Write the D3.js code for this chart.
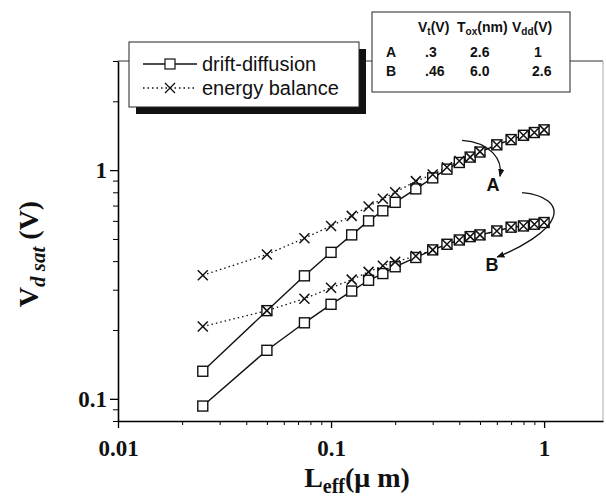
<!DOCTYPE html>
<html>
<head>
<meta charset="utf-8">
<script src="https://cdn.jsdelivr.net/npm/d3@7"></script>
<style>
  body { margin: 0; background: #fff; }
  svg { display: block; }
  .tick-label { font-family: "Liberation Serif", "Times New Roman", serif; font-weight: bold; font-size: 23px; fill: #111; }
  .axis-title { font-family: "Liberation Serif", "Times New Roman", serif; font-weight: bold; font-size: 28px; fill: #111; }
  .legend-text { font-family: "Liberation Sans", Arial, sans-serif; font-size: 20px; fill: #111; }
  .table-text { font-family: "Liberation Sans", Arial, sans-serif; font-weight: bold; font-size: 14px; fill: #111; }
  .note { font-family: "Liberation Sans", Arial, sans-serif; font-weight: bold; font-size: 18px; fill: #111; }
</style>
</head>
<body>
<div id="chart"></div>
<script>
// gate length (um)
const lengths = [0.025, 0.05, 0.075, 0.1, 0.125, 0.15, 0.175, 0.2, 0.25, 0.3, 0.35, 0.4, 0.45, 0.5, 0.6, 0.7, 0.8, 0.9, 1.0];

// Vdsat (V), device A
const energyA = [0.347, 0.428, 0.504, 0.570, 0.631, 0.694, 0.75, 0.80, 0.895, 0.957, 1.03, 1.096, 1.14, 1.205, 1.29, 1.36, 1.42, 1.46, 1.50];
const driftA  = [0.132, 0.243, 0.345, 0.437, 0.521, 0.60, 0.664, 0.723, 0.828, 0.925, 1.01, 1.08, 1.14, 1.2, 1.29, 1.36, 1.42, 1.46, 1.50];

// Vdsat (V), device B
const energyB = [0.207, 0.243, 0.274, 0.306, 0.332, 0.359, 0.382, 0.397, 0.421, 0.448, 0.474, 0.495, 0.512, 0.521, 0.542, 0.563, 0.57, 0.58, 0.59];
const driftB  = [0.093, 0.163, 0.215, 0.259, 0.296, 0.33, 0.353, 0.378, 0.415, 0.448, 0.474, 0.495, 0.512, 0.521, 0.542, 0.563, 0.57, 0.58, 0.59];

const xMajor = [0.01, 0.1, 1];
const yMajor = [0.1, 1];

const tableHeader = ["V|t|(V)", "T|ox|(nm)", "V|dd|(V)"];
const tableRows = [
    ["A", ".3", "2.6", "1"],
    ["B", ".46", "6.0", "2.6"]
];

const width = 606, height = 500;
const margin = { left: 118, right: 3, top: 61, bottom: 79 };

const x = d3.scaleLog().domain([0.01, 1.89]).range([margin.left, width - margin.right]);
const y = d3.scaleLog().domain([0.08, 3]).range([height - margin.bottom, margin.top]);

const svg = d3.select("#chart").append("svg")
    .attr("width", width)
    .attr("height", height);

// frame (top / right are faint in the scan)
svg.append("line")
    .attr("x1", x.range()[0]).attr("x2", x.range()[1])
    .attr("y1", y.range()[1]).attr("y2", y.range()[1])
    .attr("stroke", "#333").attr("stroke-width", 1);
svg.append("line")
    .attr("x1", x.range()[1]).attr("x2", x.range()[1])
    .attr("y1", y.range()[1]).attr("y2", y.range()[0])
    .attr("stroke", "#aaa").attr("stroke-width", 1);

// minor tick values
const logMinor = (lo, hi) => {
    const out = [];
    for (let e = Math.floor(Math.log10(lo)); e <= Math.ceil(Math.log10(hi)); e++) {
        for (let m = 2; m < 10; m++) {
            const v = m * Math.pow(10, e);
            if (v >= lo && v <= hi) out.push(v);
        }
    }
    return out;
};

const xAxisY = y.range()[0];
svg.append("g")
    .attr("transform", `translate(0, ${xAxisY})`)
    .call(d3.axisBottom(x).tickValues(logMinor(0.01, 1.89)).tickSize(4).tickFormat(""))
    .call(g => g.select(".domain").remove());
svg.append("g")
    .attr("class", "x-axis")
    .attr("transform", `translate(0, ${xAxisY})`)
    .call(d3.axisBottom(x).tickValues(xMajor).tickSize(7).tickSizeOuter(0).tickPadding(12).tickFormat(d => String(d)))
    .call(g => g.select(".domain").attr("stroke-width", 1.6))
    .call(g => g.selectAll(".tick line").attr("stroke-width", 1.3))
    .call(g => g.selectAll(".tick text").attr("class", "tick-label").attr("fill", null));

svg.append("g")
    .attr("transform", `translate(${margin.left}, 0)`)
    .call(d3.axisLeft(y).tickValues(logMinor(0.08, 3)).tickSize(5).tickFormat(""))
    .call(g => g.select(".domain").remove());
svg.append("g")
    .attr("class", "y-axis")
    .attr("transform", `translate(${margin.left}, 0)`)
    .call(d3.axisLeft(y).tickValues(yMajor).tickSize(8).tickSizeOuter(0).tickPadding(3).tickFormat(d => String(d)))
    .call(g => g.select(".domain").attr("stroke-width", 1.6))
    .call(g => g.selectAll(".tick line").attr("stroke-width", 1.3))
    .call(g => g.selectAll(".tick text").attr("class", "tick-label").attr("fill", null));

// axis titles
const xt = svg.append("text")
    .attr("class", "axis-title")
    .attr("x", 357)
    .attr("y", 487)
    .attr("text-anchor", "middle");
xt.append("tspan").text("L");
xt.append("tspan").attr("font-size", 20).attr("dy", 6).text("eff");
xt.append("tspan").attr("dy", -6).text("(\u03bc m)");

const yt = svg.append("text")
    .attr("class", "axis-title")
    .attr("transform", "translate(38, 254) rotate(-90)")
    .attr("text-anchor", "middle");
yt.append("tspan").text("V");
yt.append("tspan").attr("font-size", 21).attr("font-style", "italic").attr("dy", 7).text("d sat");
yt.append("tspan").attr("dy", -7).text(" (V)");

// series
const series = [
    { vals: energyB, kind: "energy" },
    { vals: energyA, kind: "energy" },
    { vals: driftB, kind: "drift" },
    { vals: driftA, kind: "drift" }
];

const line = d3.line().x(d => x(d[0])).y(d => y(d[1]));

const plot = svg.append("g");
series.forEach(s => {
    const pts = lengths.map((l, i) => [l, s.vals[i]]);
    plot.append("path")
        .attr("d", line(pts))
        .attr("fill", "none")
        .attr("stroke", "#111")
        .attr("stroke-width", s.kind === "drift" ? 1.4 : 1.3)
        .attr("stroke-dasharray", s.kind === "drift" ? null : "1.5,3");
});

const sq = 10, xs = 5;
series.filter(s => s.kind === "drift").forEach(s => {
    plot.selectAll(null)
        .data(lengths.map((l, i) => [l, s.vals[i]]))
        .join("rect")
        .attr("x", d => x(d[0]) - sq / 2)
        .attr("y", d => y(d[1]) - sq / 2)
        .attr("width", sq).attr("height", sq)
        .attr("fill", "#fff")
        .attr("stroke", "#111")
        .attr("stroke-width", 1.4);
});
const crossPath = (cx, cy) => `M${cx - xs},${cy - xs}L${cx + xs},${cy + xs}M${cx - xs},${cy + xs}L${cx + xs},${cy - xs}`;
series.filter(s => s.kind === "energy").forEach(s => {
    plot.selectAll(null)
        .data(lengths.map((l, i) => [l, s.vals[i]]))
        .join("path")
        .attr("d", d => crossPath(x(d[0]), y(d[1])))
        .attr("stroke", "#111")
        .attr("stroke-width", 1.5);
});

// curved arrows A and B (data coordinates)
const arrowA = [[0.412, 1.35], [0.558, 1.324], [0.642, 1.115], [0.621, 0.94]];
const arrowB = [[0.788, 0.798], [1.011, 0.782], [1.163, 0.706], [1.10, 0.619], [1.044, 0.537], [0.771, 0.456], [0.602, 0.417]];
const labelA = [0.576, 0.865];
const labelB = [0.570, 0.388];

svg.append("defs").append("marker")
    .attr("id", "head")
    .attr("viewBox", "0 0 10 10")
    .attr("refX", 9).attr("refY", 5)
    .attr("markerWidth", 8).attr("markerHeight", 8)
    .attr("markerUnits", "userSpaceOnUse")
    .attr("orient", "auto")
    .append("path")
    .attr("d", "M0,1L10,5L0,9z")
    .attr("fill", "#111");

const bez = p => {
    const q = p.map(d => [x(d[0]), y(d[1])]);
    let s = `M${q[0]}`;
    for (let i = 1; i + 2 < q.length; i += 3) s += `C${q[i]} ${q[i + 1]} ${q[i + 2]}`;
    return s;
};
[arrowA, arrowB].forEach(a => {
    svg.append("path")
        .attr("d", bez(a))
        .attr("fill", "none")
        .attr("stroke", "#111")
        .attr("stroke-width", 1.3)
        .attr("marker-end", "url(#head)");
});
[[labelA, "A"], [labelB, "B"]].forEach(([p, t]) => {
    svg.append("text")
        .attr("class", "note")
        .attr("x", x(p[0]))
        .attr("y", y(p[1]))
        .attr("dy", "0.36em")
        .attr("text-anchor", "middle")
        .text(t);
});

// legend with drop shadow
const lg = svg.append("g");
lg.append("rect").attr("x", 136).attr("y", 49).attr("width", 230).attr("height", 65).attr("fill", "#111");
lg.append("rect").attr("x", 129).attr("y", 42).attr("width", 230).attr("height", 65)
    .attr("fill", "#fff").attr("stroke", "#222").attr("stroke-width", 1);
const legendItems = [
    { label: "drift-diffusion", kind: "drift", yy: 64 },
    { label: "energy balance", kind: "energy", yy: 88 }
];
legendItems.forEach(it => {
    lg.append("line")
        .attr("x1", 143).attr("x2", 197).attr("y1", it.yy).attr("y2", it.yy)
        .attr("stroke", "#111").attr("stroke-width", 1.3)
        .attr("stroke-dasharray", it.kind === "drift" ? null : "1.5,3");
    if (it.kind === "drift") {
        lg.append("rect").attr("x", 170 - sq / 2).attr("y", it.yy - sq / 2)
            .attr("width", sq).attr("height", sq)
            .attr("fill", "#fff").attr("stroke", "#111").attr("stroke-width", 1.2);
    } else {
        lg.append("path").attr("d", crossPath(170, it.yy)).attr("stroke", "#111").attr("stroke-width", 1.3);
    }
    lg.append("text").attr("class", "legend-text")
        .attr("x", 202).attr("y", it.yy).attr("dy", "0.35em")
        .text(it.label);
});

// parameter table
const tb = svg.append("g");
tb.append("rect").attr("x", 372).attr("y", 12).attr("width", 198).attr("height", 80)
    .attr("fill", "#fff").attr("stroke", "#222").attr("stroke-width", 1);
const headX = [418, 457, 512];
tableHeader.forEach((h, i) => {
    const [a, b, c] = h.split("|");
    const t = tb.append("text").attr("class", "table-text").attr("x", headX[i]).attr("y", 32);
    t.append("tspan").text(a);
    t.append("tspan").attr("font-size", 10).attr("dy", 3).text(b);
    t.append("tspan").attr("dy", -3).text(c);
});
const colX = [386, 425, 470, 532];
tableRows.forEach((row, r) => {
    row.forEach((cell, c) => {
        tb.append("text").attr("class", "table-text")
            .attr("x", c === 3 && cell.length === 1 ? 534 : colX[c])
            .attr("y", 57 + r * 19)
            .text(cell);
    });
});
</script>
</body>
</html>
